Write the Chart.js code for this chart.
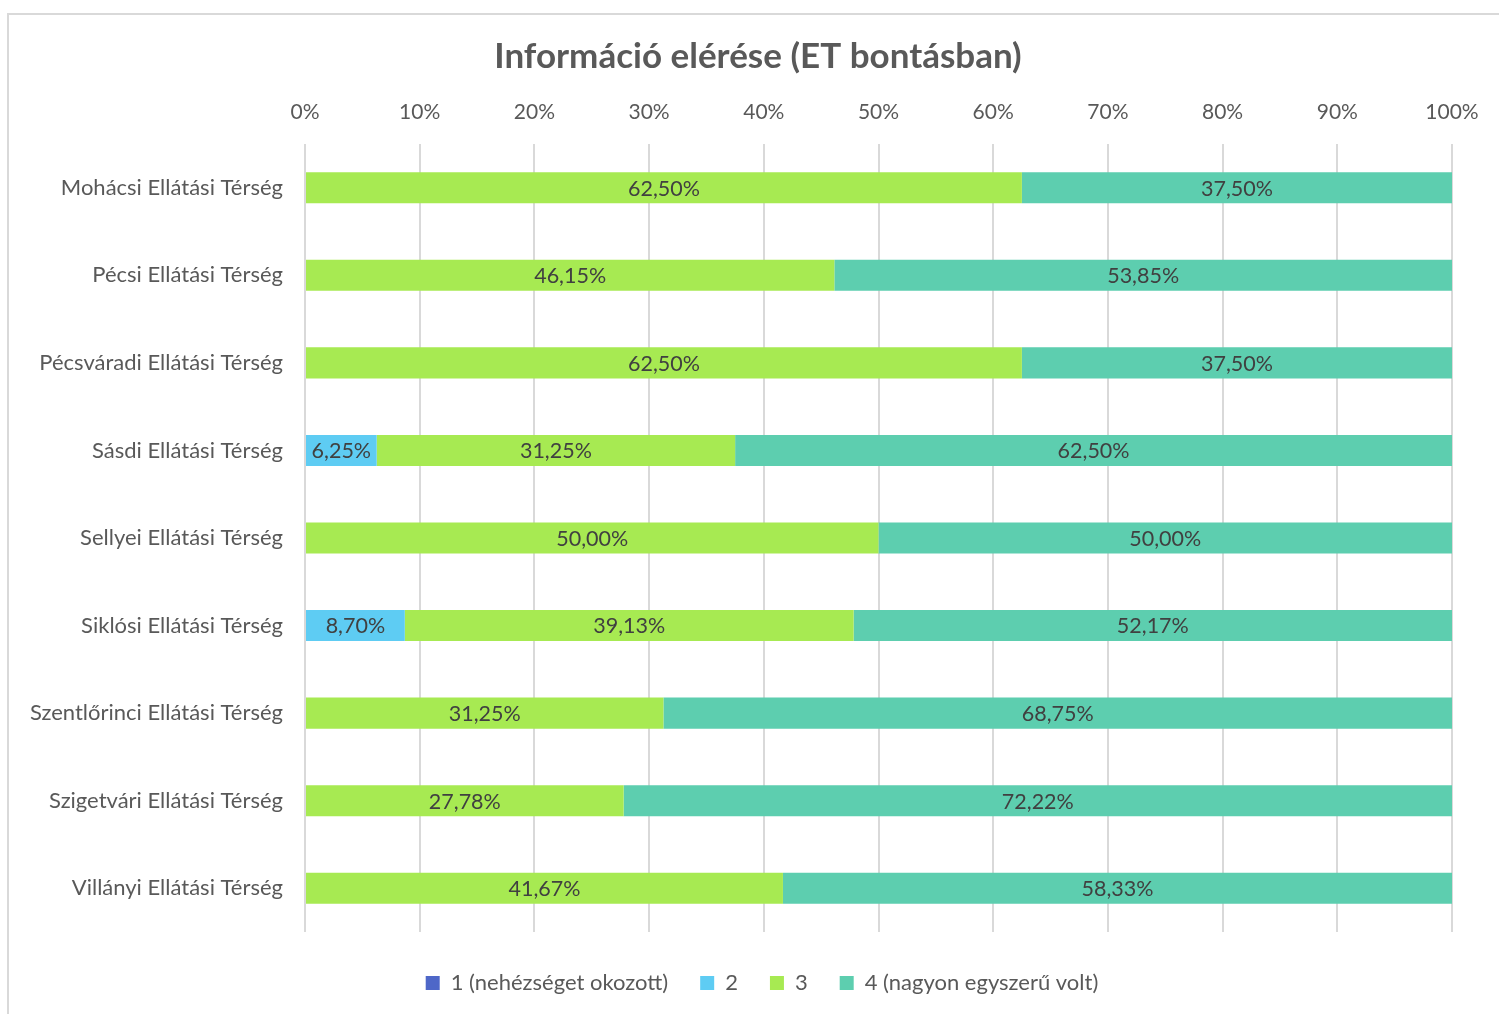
<!DOCTYPE html>
<html>
<head>
<meta charset="utf-8">
<script src="https://cdn.jsdelivr.net/npm/chart.js@4/dist/chart.umd.min.js"></script>
<style>
  html, body { margin: 0; padding: 0; background: #fff; overflow: hidden; }
  #wrap { position: relative; width: 1499px; height: 1014px; }
  #frame { position: absolute; left: 7px; top: 13px; width: 1600px; height: 1100px; border: 2px solid #d9d9d9; box-sizing: border-box; }
  #chart { position: absolute; left: 0; top: 0; }
</style>
</head>
<body>
<div id="wrap">
  <div id="frame"></div>
  <canvas id="chart" width="1499" height="1014"></canvas>
</div>
<script>

	/* Data */
	var regions = [
		'Mohácsi Ellátási Térség',
		'Pécsi Ellátási Térség',
		'Pécsváradi Ellátási Térség',
		'Sásdi Ellátási Térség',
		'Sellyei Ellátási Térség',
		'Siklósi Ellátási Térség',
		'Szentlőrinci Ellátási Térség',
		'Szigetvári Ellátási Térség',
		'Villányi Ellátási Térség'
	];
	var seriesNames = ['1 (nehézséget okozott)', '2', '3', '4 (nagyon egyszerű volt)'];
	var rating1 = [0, 0, 0, 0, 0, 0, 0, 0, 0];
	var rating2 = [0, 0, 0, 6.25, 0, 8.70, 0, 0, 0];
	var rating3 = [62.50, 46.15, 62.50, 31.25, 50.00, 39.13, 31.25, 27.78, 41.67];
	var rating4 = [37.50, 53.85, 37.50, 62.50, 50.00, 52.17, 68.75, 72.22, 58.33];
	var colours = ['#4E67C8', '#5ECCF3', '#A7EA52', '#5DCEAF'];

	var font = 'Lato, "Open Sans", sans-serif';
	var textGrey = '#595959';

	function pct(v) {
		return v.toFixed(2).replace('.', ',') + '%';
	}

	/* data labels drawn in the middle of each segment */
	var barLabels = {
		id: 'barLabels',
		afterDatasetsDraw: function(chart) {
			var ctx = chart.ctx;
			ctx.save();
			ctx.font = '21.5px ' + font;
			ctx.fillStyle = '#404040';
			ctx.textAlign = 'center';
			ctx.textBaseline = 'middle';
			chart.data.datasets.forEach(function(ds, i) {
				var meta = chart.getDatasetMeta(i);
				meta.data.forEach(function(bar, j) {
					var v = ds.data[j];
					if (!v) return;
					var x = (bar.x + bar.base) / 2;
					ctx.fillText(pct(v), x, bar.y + 1);
				});
			});
			ctx.restore();
		}
	};

	/* title and legend are centred a bit right of the canvas middle in the original */
	var shiftBlocks = {
		id: 'shiftBlocks',
		afterLayout: function(chart) {
			if (chart.titleBlock) {
				chart.titleBlock.left = 64;
			}
			if (chart.legend) {
				chart.legend.left = 72;
				chart.legend.top += 8;
				chart.legend.bottom += 8;
			}
		}
	};

	var series = [rating1, rating2, rating3, rating4];
	var datasets = series.map(function(values, i) {
		return {
			label: seriesNames[i],
			data: values,
			backgroundColor: colours[i],
			borderWidth: 0,
			barPercentage: 0.355,
			categoryPercentage: 1
		};
	});

	var ctx = document.getElementById('chart');

	var chart = new Chart(ctx, {
		type: 'bar',
		data: {
			labels: regions,
			datasets: datasets
		},
		plugins: [barLabels, shiftBlocks],
		options: {
			indexAxis: 'y',
			responsive: false,
			animation: false,
			layout: {
				padding: { left: 0, right: 47, top: 0, bottom: 18 }
			},
			plugins: {
				title: {
					display: true,
					text: 'Információ elérése (ET bontásban)',
					color: textGrey,
					font: { family: font, size: 35, weight: 'bold' },
					padding: { top: 36, bottom: 22 }
				},
				legend: {
					position: 'bottom',
					labels: {
						color: textGrey,
						font: { family: font, size: 22 },
						boxWidth: 14,
						boxHeight: 14,
						padding: 32
					}
				},
				tooltip: { enabled: false }
			},
			scales: {
				x: {
					position: 'top',
					stacked: true,
					min: 0,
					max: 100,
					border: { display: false },
					grid: { color: '#d9d9d9', lineWidth: 2, drawTicks: false },
					ticks: {
						stepSize: 10,
						padding: 19,
						color: textGrey,
						font: { family: font, size: 21 },
						callback: function(v) { return v + '%'; }
					},
					afterFit: function(scale) {
						scale.height = 44;
					}
				},
				y: {
					stacked: true,
					border: { display: false },
					grid: { display: false, drawTicks: false },
					ticks: {
						padding: 22,
						color: textGrey,
						font: { family: font, size: 22 }
					},
					afterFit: function(scale) {
						scale.width = 305;
					}
				}
			}
		}
	});

</script>
</body>
</html>
